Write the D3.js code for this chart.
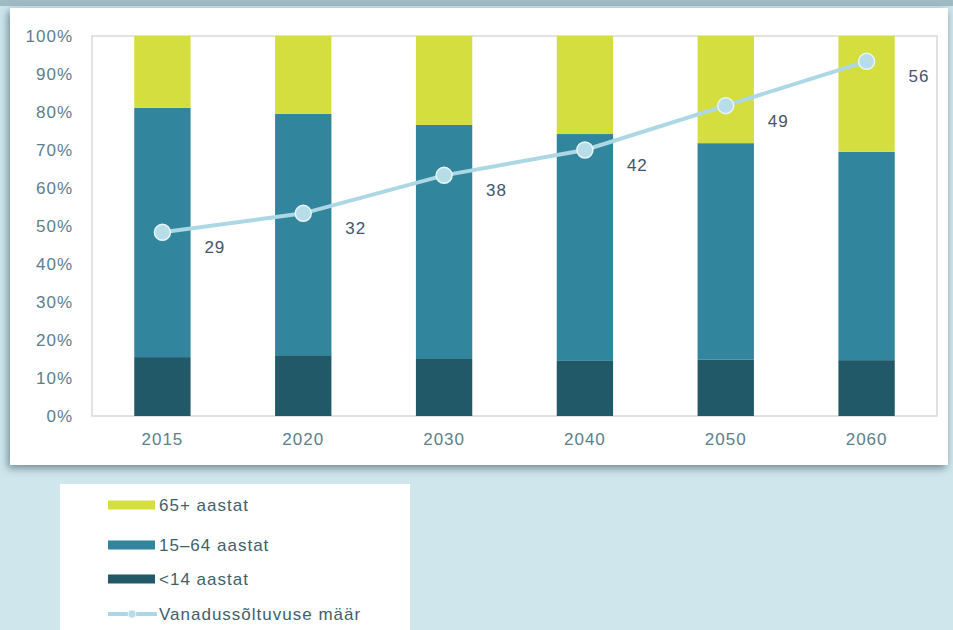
<!DOCTYPE html>
<html>
<head>
<meta charset="utf-8">
<script src="https://cdn.jsdelivr.net/npm/d3@7"></script>
<style>
  body { margin: 0; background: #cfe6ed; }
  svg { display: block; font-family: "Liberation Sans", Arial, sans-serif; letter-spacing: 1px; }
</style>
</head>
<body>
<div id="chart"></div>
<script>
// data (shares in %)
const years = ['2015', '2020', '2030', '2040', '2050', '2060'];
const under14 = [15.5, 16.0, 15.0, 14.5, 14.8, 14.7];
const age15to64 = [65.6, 63.5, 61.6, 59.7, 57.0, 54.8];
const age65plus = [18.9, 20.5, 23.4, 25.8, 28.2, 30.5];
const ratio = [29, 32, 38, 42, 49, 56];
const yTicks = [0, 10, 20, 30, 40, 50, 60, 70, 80, 90, 100];

const seriesNames = ['<14 aastat', '15–64 aastat', '65+ aastat'];
const colors = ['#215968', '#31859c', '#d4df3f'];
const lineColor = '#acd7e4';
const lineName = 'Vanadussõltuvuse määr';

const width = 953, height = 630;
const margin = { top: 36, bottom: 214, left: 92, right: 16 };

const svg = d3.select('#chart').append('svg')
    .attr('width', width)
    .attr('height', height);

// shadow for the white panel
const defs = svg.append('defs');
const f = defs.append('filter').attr('id', 'shadow')
    .attr('x', '-5%').attr('y', '-5%').attr('width', '110%').attr('height', '115%');
f.append('feDropShadow').attr('dx', -2).attr('dy', 3).attr('stdDeviation', 4)
    .attr('flood-color', '#4a6670').attr('flood-opacity', 0.75);

svg.append('rect').attr('x', 0).attr('y', 0).attr('width', width).attr('height', 6)
    .attr('fill', '#9fbcc4');
svg.append('rect')
    .attr('x', 10).attr('y', 8).attr('width', 938).attr('height', 457)
    .attr('fill', '#fff')
    .attr('filter', 'url(#shadow)');

// the table for the stack
const table = years.map((y, i) => ({
    year: y, a: under14[i], b: age15to64[i], c: age65plus[i]
}));
const stack = d3.stack().keys(['a', 'b', 'c'])(table);

const x = d3.scaleBand()
    .domain(years)
    .range([margin.left, width - margin.right])
    .paddingInner(0.6)
    .paddingOuter(0.3);

const y = d3.scaleLinear()
    .domain([0, 100])
    .range([height - margin.bottom, margin.top]);

// hidden secondary axis for the line
const y2 = d3.scaleLinear()
    .domain([0, 60])
    .range([height - margin.bottom, margin.top]);

// plot frame
svg.append('rect')
    .attr('x', margin.left).attr('y', margin.top)
    .attr('width', width - margin.left - margin.right)
    .attr('height', height - margin.top - margin.bottom)
    .attr('fill', 'none').attr('stroke', '#d9d9d9').attr('stroke-width', 1.5);

// bars
svg.append('g').selectAll('g')
    .data(stack)
    .join('g')
    .attr('fill', (d, i) => colors[i])
    .selectAll('rect')
    .data(d => d)
    .join('rect')
    .attr('x', d => x(d.data.year))
    .attr('y', d => y(d[1]))
    .attr('height', d => y(d[0]) - y(d[1]))
    .attr('width', x.bandwidth());

// axes
const yAxis = svg.append('g')
    .attr('transform', `translate(${margin.left - 16},0)`)
    .call(d3.axisLeft(y).tickValues(yTicks).tickFormat(d => d + '%').tickSize(0));
const xAxis = svg.append('g')
    .attr('transform', `translate(0,${height - margin.bottom + 14})`)
    .call(d3.axisBottom(x).tickSize(0));
[yAxis, xAxis].forEach(g => {
    g.select('.domain').remove();
    g.selectAll('text').attr('fill', '#5b808d').attr('font-size', 17);
});
xAxis.selectAll('text').attr('dy', '0.71em');

// the line
const cx = d => x(d) + x.bandwidth() / 2;
const line = d3.line()
    .x((d, i) => cx(years[i]))
    .y(d => y2(d));
svg.append('path')
    .datum(ratio)
    .attr('d', line)
    .attr('fill', 'none')
    .attr('stroke', lineColor)
    .attr('stroke-width', 4);
svg.append('g').selectAll('circle')
    .data(ratio)
    .join('circle')
    .attr('cx', (d, i) => cx(years[i]))
    .attr('cy', d => y2(d))
    .attr('r', 8)
    .attr('fill', '#b6dde8')
    .attr('stroke', '#e8f5f9')
    .attr('stroke-width', 1.5);
svg.append('g').selectAll('text')
    .data(ratio)
    .join('text')
    .attr('x', (d, i) => cx(years[i]) + 42)
    .attr('y', d => y2(d) + 15)
    .attr('dy', '0.35em')
    .attr('fill', '#44546a')
    .attr('font-size', 17)
    .text(d => d);

// legend
svg.append('rect')
    .attr('x', 60).attr('y', 484).attr('width', 350).attr('height', 160)
    .attr('fill', '#fff');
const legendItems = [
    { name: seriesNames[2], color: colors[2] },
    { name: seriesNames[1], color: colors[1] },
    { name: seriesNames[0], color: colors[0] }
];
const legendY = [505, 545, 579];
const lg = svg.append('g');
legendItems.forEach((d, i) => {
    lg.append('rect')
        .attr('x', 108).attr('y', legendY[i] - 4.5)
        .attr('width', 47).attr('height', 9)
        .attr('fill', d.color);
    lg.append('text')
        .attr('x', 159).attr('y', legendY[i])
        .attr('dy', '0.35em')
        .attr('fill', '#3f5f6b').attr('font-size', 17)
        .text(d.name);
});
lg.append('line')
    .attr('x1', 108).attr('x2', 157).attr('y1', 614).attr('y2', 614)
    .attr('stroke', lineColor).attr('stroke-width', 4);
lg.append('circle')
    .attr('cx', 132).attr('cy', 614).attr('r', 4)
    .attr('fill', '#b6dde8').attr('stroke', '#e8f5f9');
lg.append('text')
    .attr('x', 159).attr('y', 614)
    .attr('dy', '0.35em')
    .attr('fill', '#3f5f6b').attr('font-size', 17)
    .text(lineName);
</script>
</body>
</html>
